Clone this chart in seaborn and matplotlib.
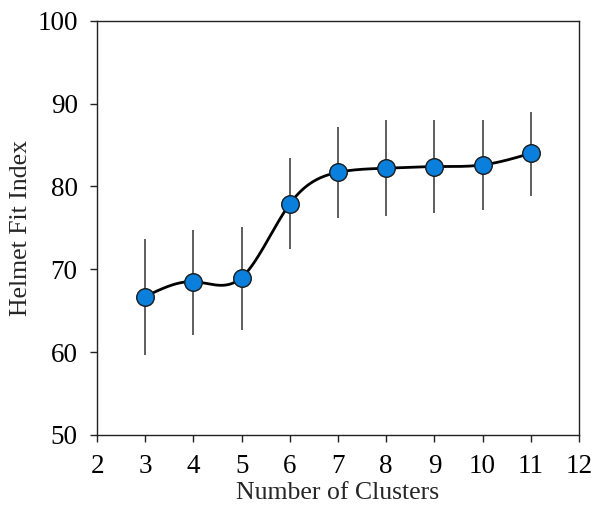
import numpy as np
import pandas as pd
import matplotlib
matplotlib.use("Agg")
import matplotlib.pyplot as plt
import seaborn as sns

# values
clusters = [3, 4, 5, 6, 7, 8, 9, 10, 11]
fit_index = [66.7, 68.5, 69.0, 77.9, 81.7, 82.2, 82.4, 82.6, 84.0]
err_low = [7.1, 6.5, 6.3, 5.5, 5.5, 5.8, 5.6, 5.4, 5.2]
err_high = [6.9, 6.2, 6.1, 5.5, 5.5, 5.8, 5.6, 5.4, 5.0]


def natural_spline(x, y, n=400):
    # plain natural cubic spline, just to draw the smooth curve
    x = np.asarray(x, float)
    y = np.asarray(y, float)
    k = len(x)
    h = np.diff(x)
    A = np.zeros((k, k))
    b = np.zeros(k)
    A[0, 0] = A[-1, -1] = 1
    for i in range(1, k - 1):
        A[i, i - 1] = h[i - 1]
        A[i, i] = 2 * (h[i - 1] + h[i])
        A[i, i + 1] = h[i]
        b[i] = 3 * ((y[i + 1] - y[i]) / h[i] - (y[i] - y[i - 1]) / h[i - 1])
    c = np.linalg.solve(A, b)
    xs = np.linspace(x[0], x[-1], n)
    idx = np.clip(np.searchsorted(x, xs) - 1, 0, k - 2)
    dx = xs - x[idx]
    bb = (y[idx + 1] - y[idx]) / h[idx] - h[idx] * (2 * c[idx] + c[idx + 1]) / 3
    d = (c[idx + 1] - c[idx]) / (3 * h[idx])
    ys = y[idx] + bb * dx + c[idx] * dx ** 2 + d * dx ** 3
    return xs, ys


sns.set_style("ticks")
plt.rcParams['font.family'] = ['Liberation Serif', 'DejaVu Serif']

fig = plt.figure(figsize=(5.92, 5.08), dpi=100)
ax = fig.add_axes([0.164, 0.144, 0.814, 0.815])

df = pd.DataFrame({'k': clusters, 'fit': fit_index})
xs, ys = natural_spline(clusters, fit_index)
curve = pd.DataFrame({'k': xs, 'fit': ys})

ax.errorbar(clusters, fit_index, yerr=[err_low, err_high], fmt='none',
            ecolor='#333333', elinewidth=1.1, capsize=0, zorder=1)
sns.lineplot(data=curve, x='k', y='fit', color='black', linewidth=2.0,
             ax=ax, zorder=2)
sns.scatterplot(data=df, x='k', y='fit', s=160, color='#0a7fdc',
                edgecolor='#1a1a1a', linewidth=1.0, ax=ax, zorder=3)

ax.set_xlim(2, 12)
ax.set_ylim(50, 100)
ax.set_xticks(range(2, 13))
ax.set_yticks(range(50, 101, 10))
ax.tick_params(axis='both', labelsize=19.5, direction='out', length=5,
               width=1.0, colors='#222222', labelcolor='black')
ax.tick_params(axis='x', pad=9)
ax.tick_params(axis='y', pad=9)
ax.set_xlabel('Number of Clusters', fontsize=18.5, labelpad=2)
ax.set_ylabel('Helmet Fit Index', fontsize=18.5, labelpad=4)
for sp in ax.spines.values():
    sp.set_linewidth(1.0)
    sp.set_color('#222222')

fig.savefig('out.png', dpi=100)
